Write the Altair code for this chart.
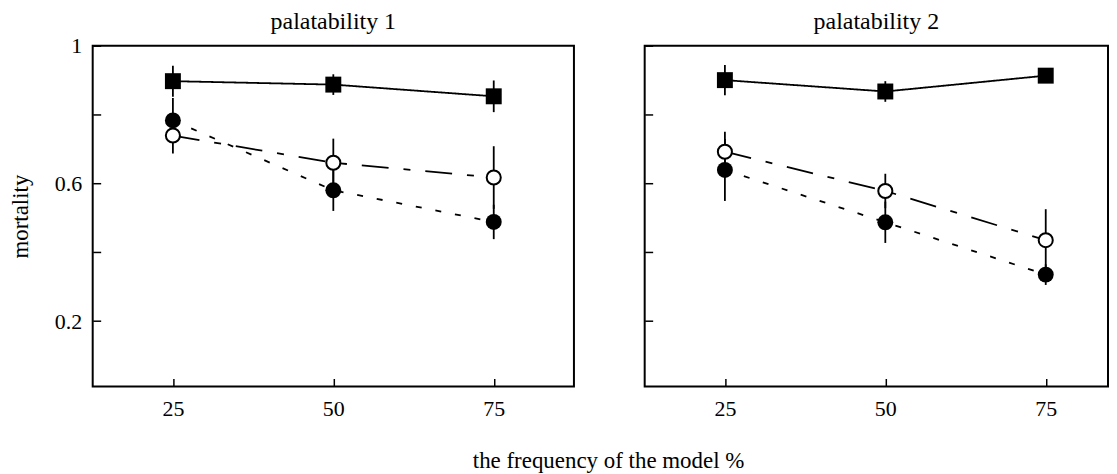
import altair as alt
import pandas as pd

FONT = "Liberation Serif"

freq = [25, 50, 75]
panels = ["palatability 1", "palatability 2"]

# mortality values (mean, half error-bar)
p1_square = [0.897, 0.887, 0.853]
p1_square_err = [0.045, 0.03, 0.046]
p1_open = [0.739, 0.660, 0.617]
p1_open_err = [0.052, 0.070, 0.091]
p1_filled = [0.783, 0.580, 0.488]
p1_filled_err = [0.065, 0.060, 0.050]

p2_square = [0.900, 0.867, 0.913]
p2_square_err = [0.044, 0.030, 0.010]
p2_open = [0.692, 0.578, 0.435]
p2_open_err = [0.058, 0.050, 0.090]
p2_filled = [0.639, 0.487, 0.335]
p2_filled_err = [0.090, 0.060, 0.030]

y_ticks = [0.2, 0.4, 0.6, 0.8, 1.0]

rows = []
for panel, series in [
    (panels[0], {"square": (p1_square, p1_square_err),
                 "open": (p1_open, p1_open_err),
                 "filled": (p1_filled, p1_filled_err)}),
    (panels[1], {"square": (p2_square, p2_square_err),
                 "open": (p2_open, p2_open_err),
                 "filled": (p2_filled, p2_filled_err)}),
]:
    for s, (vals, errs) in series.items():
        for f, v, e in zip(freq, vals, errs):
            rows.append({"panel": panel, "series": s, "freq": f,
                         "mort": v, "lo": v - e, "hi": v + e})
df = pd.DataFrame(rows)

W1, W2, H = 483, 465, 342
PX_PER_UNIT = W1 / 75.0
LABEL_EXPR = ("(abs(datum.value-0.4)<0.01 || abs(datum.value-0.8)<0.01) ? '' : "
              "(datum.value > 0.99 ? '1' : format(datum.value, '.1f'))")


def panel_chart(name, first, width):
    base = alt.Chart(df).transform_filter(alt.datum.panel == name)
    xmax = 12.5 + width / PX_PER_UNIT
    xenc = alt.X("freq:Q",
                 scale=alt.Scale(domain=[12.5, xmax], nice=False, zero=False),
                 axis=alt.Axis(values=freq, offset=-8, tickSize=8, tickWidth=1.5,
                               tickColor="black", domain=False, grid=False,
                               labelPadding=12, labelFont=FONT, labelFontSize=22,
                               labelColor="black", title=None))
    if first:
        yaxis = alt.Axis(values=y_ticks, offset=-8, tickSize=8, tickWidth=1.5,
                         tickColor="black", domain=False, grid=False,
                         labelPadding=11, labelFont=FONT, labelFontSize=22,
                         labelColor="black", labelExpr=LABEL_EXPR,
                         title="mortality", titleFont=FONT, titleFontSize=23,
                         titleFontWeight="normal", titleColor="black",
                         titlePadding=22)
    else:
        yaxis = alt.Axis(values=y_ticks, offset=-8, tickSize=8, tickWidth=1.5,
                         tickColor="black", domain=False, grid=False,
                         labelPadding=11, labelFont=FONT, labelFontSize=22,
                         labelColor="black", labelOpacity=0,
                         labelExpr=LABEL_EXPR, title=None)
    yenc = alt.Y("mort:Q",
                 scale=alt.Scale(domain=[0.01, 1.0], nice=False, zero=False),
                 axis=yaxis)

    lines = base.mark_line(color="black", strokeWidth=1.8).encode(
        x=xenc, y=yenc,
        strokeDash=alt.StrokeDash(
            "series:N",
            scale=alt.Scale(domain=["square", "open", "filled"],
                            range=[[1, 0], [27, 15, 7, 15], [6, 14]]),
            legend=None),
        detail="series:N",
    )
    bars = base.mark_rule(color="black", strokeWidth=1.8).encode(
        x="freq:Q", y="lo:Q", y2="hi:Q")
    squares = base.transform_filter(alt.datum.series == "square").mark_point(
        shape="square", filled=True, color="black", size=256, opacity=1).encode(
        x="freq:Q", y="mort:Q")
    filled = base.transform_filter(alt.datum.series == "filled").mark_point(
        shape="circle", filled=True, color="black", size=256, opacity=1).encode(
        x="freq:Q", y="mort:Q")
    opened = base.transform_filter(alt.datum.series == "open").mark_point(
        shape="circle", filled=True, fill="white", stroke="black", strokeWidth=2,
        size=200, opacity=1).encode(
        x="freq:Q", y="mort:Q")

    return alt.layer(lines, bars, squares, filled, opened).properties(
        width=width, height=H,
        title=alt.TitleParams(name, font=FONT, fontSize=24, fontWeight="normal",
                              color="black", offset=1, anchor="middle",
                              frame="group"),
    )


chart = alt.hconcat(panel_chart(panels[0], True, W1),
                    panel_chart(panels[1], False, W2),
                    spacing=30).properties(
    title=alt.TitleParams("the frequency of the model %", orient="bottom",
                          anchor="middle", font=FONT, fontSize=23,
                          fontWeight="normal", color="black", offset=30, dx=50),
    padding={"left": 0, "top": 0, "right": 0, "bottom": 0},
    background="white",
).configure_view(stroke="black", strokeWidth=2)

chart.save("out.html", embed_options={"renderer": "svg", "actions": False})
